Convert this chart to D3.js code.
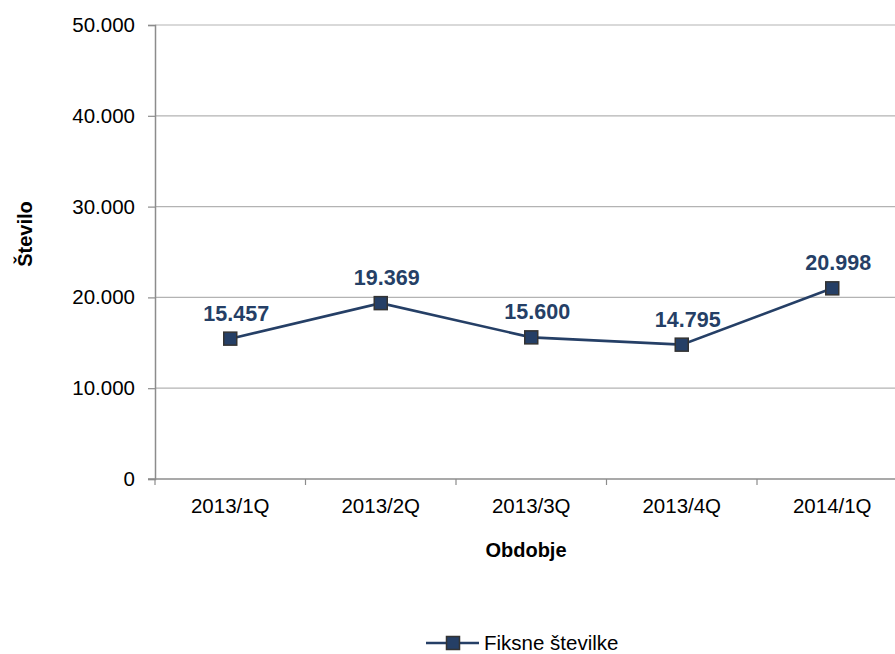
<!DOCTYPE html>
<html>
<head>
<meta charset="utf-8">
<script src="https://cdn.jsdelivr.net/npm/d3@7/dist/d3.min.js"></script>
<style>
  html, body { margin: 0; padding: 0; background: #fff; }
  svg { display: block; font-family: "Liberation Sans", Arial, sans-serif; }
</style>
</head>
<body>
<svg id="chart" width="895" height="654"></svg>
<script>
// Quarterly counts of fixed numbers
const periods = ["2013/1Q", "2013/2Q", "2013/3Q", "2013/4Q", "2014/1Q"];
const values = [15457, 19369, 15600, 14795, 20998];
const yTicks = [0, 10000, 20000, 30000, 40000, 50000];
const seriesName = "Fiksne številke";
const xTitle = "Obdobje";
const yTitle = "Število";

(function draw() {
  const lineColor = "#253f66";
  const svg = d3.select("#chart");

  const plotLeft = 155, plotRight = 907.5, plotTop = 25, plotBottom = 479;

  const x = d3.scaleBand().domain(periods).range([plotLeft, plotRight]);
  const y = d3.scaleLinear().domain([0, 50000]).range([plotBottom, plotTop]);

  const fmt = v => d3.format(",")(v).replace(/,/g, ".");

  // horizontal gridlines
  svg.append("g")
    .selectAll("line")
    .data(yTicks.filter(t => t > 0))
    .join("line")
    .attr("x1", plotLeft).attr("x2", plotRight)
    .attr("y1", d => y(d)).attr("y2", d => y(d))
    .attr("stroke", "#b3b3b3").attr("stroke-width", 1.2);

  // y axis
  const yAxis = svg.append("g")
    .attr("transform", `translate(${plotLeft},0)`)
    .call(d3.axisLeft(y).tickValues(yTicks).tickFormat(fmt).tickSize(7).tickPadding(13));
  yAxis.select(".domain").attr("stroke", "#8c8c8c").attr("stroke-width", 1.5);
  yAxis.selectAll(".tick line").attr("stroke", "#8c8c8c").attr("stroke-width", 1.2);
  yAxis.selectAll("text").attr("font-size", 20.5).attr("fill", "#000")
    .attr("font-family", "Liberation Sans, Arial, sans-serif");

  // x axis with tick marks on category boundaries
  const xAxis = svg.append("g")
    .attr("transform", `translate(0,${plotBottom})`);
  xAxis.append("line")
    .attr("x1", plotLeft - 7).attr("x2", plotRight)
    .attr("stroke", "#8c8c8c").attr("stroke-width", 1.5);
  xAxis.selectAll(".bt")
    .data(periods)
    .join("line")
    .attr("class", "bt")
    .attr("x1", d => x(d)).attr("x2", d => x(d))
    .attr("y1", 0).attr("y2", 6)
    .attr("stroke", "#8c8c8c").attr("stroke-width", 1.2);
  xAxis.selectAll(".lbl")
    .data(periods)
    .join("text")
    .attr("class", "lbl")
    .attr("x", d => x(d) + x.bandwidth() / 2)
    .attr("y", 34)
    .attr("text-anchor", "middle")
    .attr("font-size", 20.5)
    .attr("fill", "#000")
    .text(d => d);

  // axis titles
  svg.append("text")
    .attr("x", 526).attr("y", 557)
    .attr("text-anchor", "middle")
    .attr("font-size", 20).attr("font-weight", "bold")
    .text(xTitle);
  svg.append("text")
    .attr("transform", "translate(32,234) rotate(-90)")
    .attr("text-anchor", "middle")
    .attr("font-size", 20).attr("font-weight", "bold")
    .text(yTitle);

  // series line
  const pts = periods.map((p, i) => ({ p, v: values[i] }));
  const line = d3.line()
    .x(d => x(d.p) + x.bandwidth() / 2)
    .y(d => y(d.v));
  svg.append("path")
    .datum(pts)
    .attr("d", line)
    .attr("fill", "none")
    .attr("stroke", lineColor)
    .attr("stroke-width", 2.6);

  // square markers
  const ms = 13;
  svg.append("g")
    .selectAll("rect")
    .data(pts)
    .join("rect")
    .attr("x", d => x(d.p) + x.bandwidth() / 2 - ms / 2)
    .attr("y", d => y(d.v) - ms / 2)
    .attr("width", ms).attr("height", ms)
    .attr("fill", lineColor)
    .attr("stroke", "#333")
    .attr("stroke-width", 1.5);

  // value labels
  svg.append("g")
    .selectAll("text")
    .data(pts)
    .join("text")
    .attr("x", d => x(d.p) + x.bandwidth() / 2 + 6)
    .attr("y", d => y(d.v) - 18)
    .attr("text-anchor", "middle")
    .attr("font-size", 21.5)
    .attr("font-weight", "bold")
    .attr("fill", lineColor)
    .text(d => fmt(d.v));

  // legend
  const lg = svg.append("g").attr("transform", "translate(0,643)");
  lg.append("line")
    .attr("x1", 426).attr("x2", 479)
    .attr("stroke", lineColor).attr("stroke-width", 2.6);
  lg.append("rect")
    .attr("x", 453 - ms / 2).attr("y", -ms / 2)
    .attr("width", ms).attr("height", ms)
    .attr("fill", lineColor).attr("stroke", "#333").attr("stroke-width", 1.5);
  lg.append("text")
    .attr("x", 484).attr("y", 7)
    .attr("font-size", 20.5)
    .attr("fill", "#000")
    .text(seriesName);
})();
</script>
</body>
</html>
